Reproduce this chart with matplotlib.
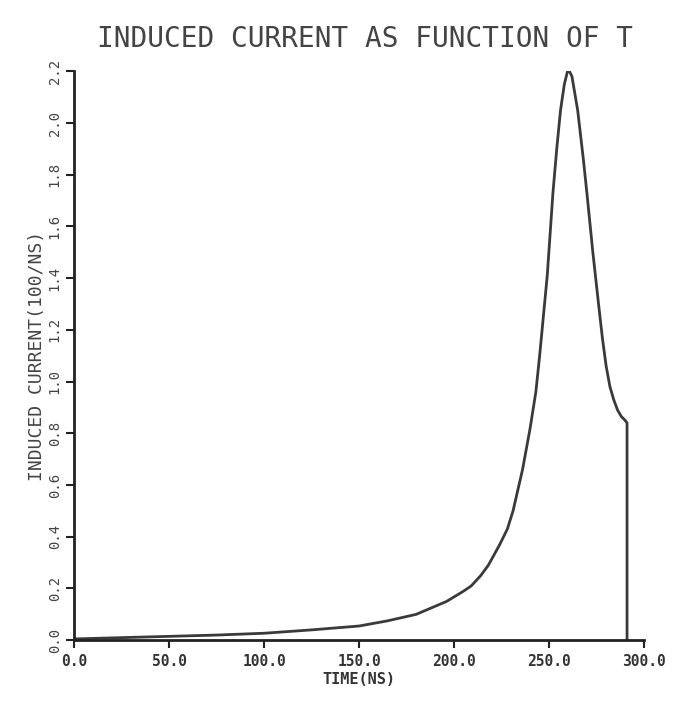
import matplotlib.pyplot as plt

# values
time_ns = [0, 25, 50, 75, 100, 125, 150, 165, 180, 196, 205, 209, 214, 218,
           224, 228, 231, 236, 240, 243, 245, 249, 252, 254, 256, 258, 260,
           262, 265, 268, 270, 273, 276, 278, 280, 282, 284, 286, 288, 290,
           291, 291]
current = [0.005, 0.01, 0.015, 0.02, 0.027, 0.04, 0.055, 0.075, 0.10, 0.15,
           0.19, 0.21, 0.25, 0.29, 0.37, 0.43, 0.50, 0.66, 0.82, 0.96, 1.10,
           1.41, 1.73, 1.90, 2.05, 2.15, 2.21, 2.18, 2.05, 1.86, 1.72, 1.50,
           1.30, 1.17, 1.06, 0.98, 0.93, 0.89, 0.865, 0.85, 0.84, 0.0]

xticks = [0, 50, 100, 150, 200, 250, 300]
yticks = [0.0, 0.2, 0.4, 0.6, 0.8, 1.0, 1.2, 1.4, 1.6, 1.8, 2.0, 2.2]

mono = "DejaVu Sans Mono"

fig = plt.figure(figsize=(6.93, 7.02), dpi=100)
ax = fig.add_axes([0.107, 0.088, 0.8225, 0.8105])

ax.plot(time_ns, current, color="#3a3a3a", linewidth=2.0)

ax.set_xlim(0, 300)
ax.set_ylim(0, 2.2)

for s in ["top", "right"]:
    ax.spines[s].set_visible(False)
for s in ["left", "bottom"]:
    ax.spines[s].set_linewidth(2.0)
    ax.spines[s].set_color("#222222")

ax.set_xticks(xticks)
ax.set_xticklabels([f"{v:.1f}" for v in xticks], fontfamily=mono,
                   fontweight="bold", fontsize=10.5, color="#333333")
ax.set_yticks(yticks)
ax.set_yticklabels([f"{v:.1f}" for v in yticks], fontfamily=mono,
                   fontsize=10, color="#444444", rotation=90, va="center")
ax.tick_params(axis="both", direction="out", length=6, width=1.5,
               color="#222222")
ax.tick_params(axis="x", pad=4)
ax.tick_params(axis="y", pad=3)

ax.set_xlabel("TIME(NS)", fontfamily=mono, fontweight="bold", fontsize=11,
              color="#333333", labelpad=2)
ax.set_ylabel("INDUCED CURRENT(100/NS)", fontfamily=mono, fontsize=13,
              color="#444444", labelpad=1)

fig.text(0.527, 0.945, "INDUCED CURRENT AS FUNCTION OF T", fontfamily=mono,
         fontsize=20, color="#444444", ha="center", va="center")

fig.savefig("out.png", dpi=100, facecolor="white")
